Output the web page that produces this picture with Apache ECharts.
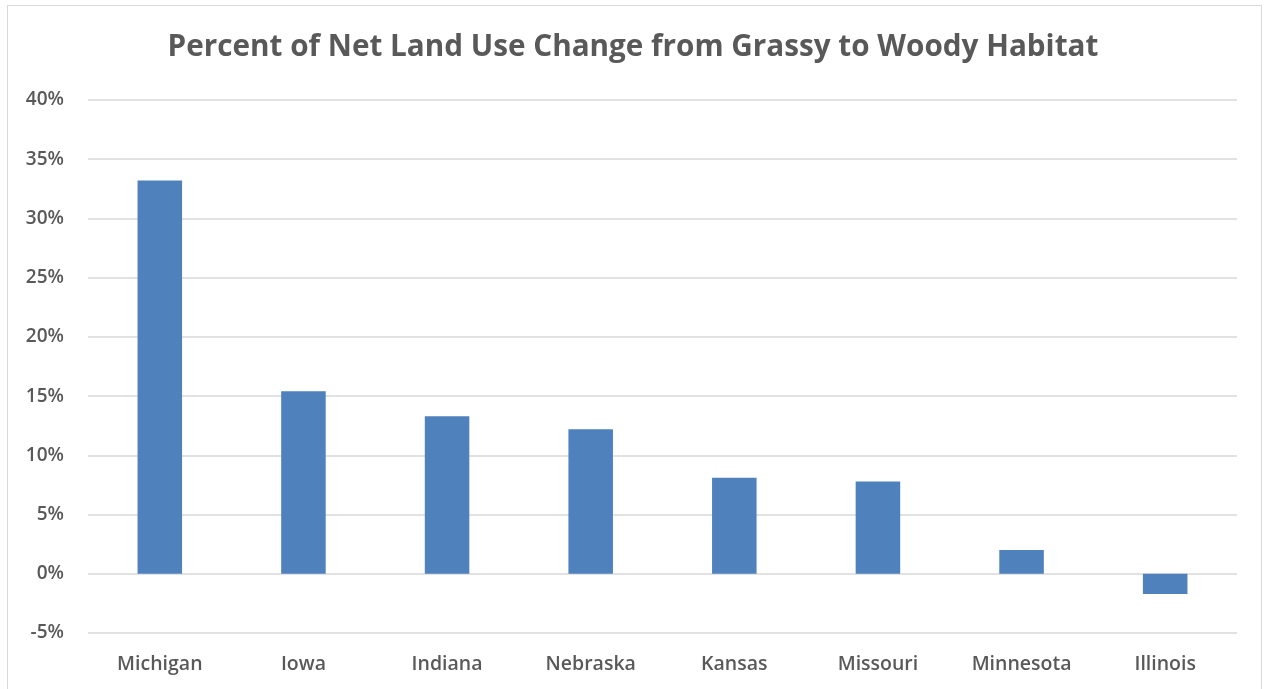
<!DOCTYPE html>
<html>
<head>
<meta charset="utf-8">
<script src="https://cdn.jsdelivr.net/npm/echarts@6/dist/echarts.min.js"></script>
<style>
  html, body { margin: 0; padding: 0; background: #fff; }
  #frame { position: absolute; left: 7px; top: 5px; width: 1255px; height: 700px; border: 1.5px solid #d9d9d9; box-sizing: border-box; }
  #chart { position: absolute; left: 0; top: 0; width: 1266px; height: 689px; }
</style>
</head>
<body>
<div id="frame"></div>
<div id="chart"></div>
<script>
// Net land use change from grassy to woody habitat, by state (percent)
const states = ['Michigan', 'Iowa', 'Indiana', 'Nebraska', 'Kansas', 'Missouri', 'Minnesota', 'Illinois'];
const netChange = [33.2, 15.4, 13.3, 12.2, 8.1, 7.8, 2.0, -1.7];
const chartTitle = 'Percent of Net Land Use Change from Grassy to Woody Habitat';

const textColor = '#595959';
const chart = echarts.init(document.getElementById('chart'), null, { renderer: 'canvas' });
chart.setOption({
  animation: false,
  title: {
    text: chartTitle,
    left: 'center',
    top: 28,
    textStyle: { fontFamily: 'Open Sans', fontWeight: 'bold', fontSize: 29.7, color: textColor }
  },
  grid: { left: 88, right: 29, top: 100, bottom: 56 },
  xAxis: {
    type: 'category',
    data: states,
    axisLine: { show: false },
    axisTick: { show: false },
    axisLabel: { color: textColor, fontFamily: 'Open Sans', fontWeight: 600, fontSize: 19.5, margin: 21 }
  },
  yAxis: {
    type: 'value',
    min: -5,
    max: 40,
    interval: 5,
    axisLine: { show: false },
    axisTick: { show: false },
    axisLabel: { color: textColor, fontFamily: 'Open Sans', fontWeight: 600, fontSize: 19, margin: 24, formatter: '{value}%' },
    splitLine: { lineStyle: { color: '#d9d9d9', width: 1.5 } }
  },
  series: [{
    type: 'bar',
    data: netChange,
    barWidth: '31%',
    itemStyle: { color: '#4f81bd' }
  }]
});
</script>
</body>
</html>
